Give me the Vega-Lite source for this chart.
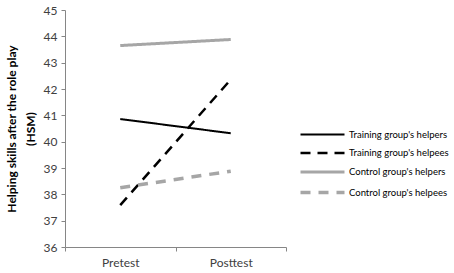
{
  "$schema": "https://vega.github.io/schema/vega-lite/v6.json",
  "width": 221,
  "height": 237,
  "autosize": "none",
  "padding": {"left": 65, "top": 10, "right": 168, "bottom": 26},
  "background": "white",
  "config": {"view": {"stroke": null}, "font": "Lato",
    "legend": {"title": null, "orient": "none", "legendX": 250, "legendY": 118, "symbolType": "M-4,0H4", "symbolSize": 121, "labelFontSize": 9.5, "labelColor": "#000000", "rowPadding": 7, "labelOffset": 19}
  },
  "data": {"values": [
    {"time": "Pretest", "group": "Training group's helpers", "score": 40.86},
    {"time": "Posttest", "group": "Training group's helpers", "score": 40.32},
    {"time": "Pretest", "group": "Training group's helpees", "score": 37.59},
    {"time": "Posttest", "group": "Training group's helpees", "score": 42.36},
    {"time": "Pretest", "group": "Control group's helpers", "score": 43.65},
    {"time": "Posttest", "group": "Control group's helpers", "score": 43.88},
    {"time": "Pretest", "group": "Control group's helpees", "score": 38.25},
    {"time": "Posttest", "group": "Control group's helpees", "score": 38.88}
  ]},
  "mark": {"type": "line", "strokeCap": "butt"},
  "encoding": {
    "x": {
      "field": "time", "type": "nominal", "sort": ["Pretest", "Posttest"],
      "scale": {"type": "band", "paddingInner": 0, "paddingOuter": 0},
      "axis": {"title": null, "labelAngle": 0, "tickBand": "extent", "domainColor": "#868686", "tickColor": "#868686", "tickSize": 4, "labelFontSize": 12, "labelColor": "#404040", "labelPadding": 6}
    },
    "y": {
      "field": "score", "type": "quantitative",
      "scale": {"domain": [36, 45], "nice": false, "zero": false},
      "axis": {"values": [36, 37, 38, 39, 40, 41, 42, 43, 44, 45], "grid": false, "domainColor": "#868686", "tickColor": "#868686", "tickSize": 4, "labelFontSize": 12, "labelColor": "#404040", "labelPadding": 4,
        "title": ["Helping skills after the role play", "(HSM)"], "titleFontSize": 12, "titleLineHeight": 19, "titleFontWeight": "bold", "titleColor": "#000000", "titlePadding": 6}
    },
    "color": {
      "field": "group", "type": "nominal",
      "scale": {"domain": ["Training group's helpers", "Training group's helpees", "Control group's helpers", "Control group's helpees"], "range": ["#000000", "#000000", "#a6a6a6", "#a6a6a6"]}
    },
    "strokeDash": {
      "field": "group", "type": "nominal",
      "scale": {"domain": ["Training group's helpers", "Training group's helpees", "Control group's helpers", "Control group's helpees"], "range": [[1, 0], [10, 7], [1, 0], [10, 8]]}
    },
    "strokeWidth": {
      "field": "group", "type": "nominal",
      "scale": {"domain": ["Training group's helpers", "Training group's helpees", "Control group's helpers", "Control group's helpees"], "range": [2, 3.5, 2, 3]}
    }
  }
}
